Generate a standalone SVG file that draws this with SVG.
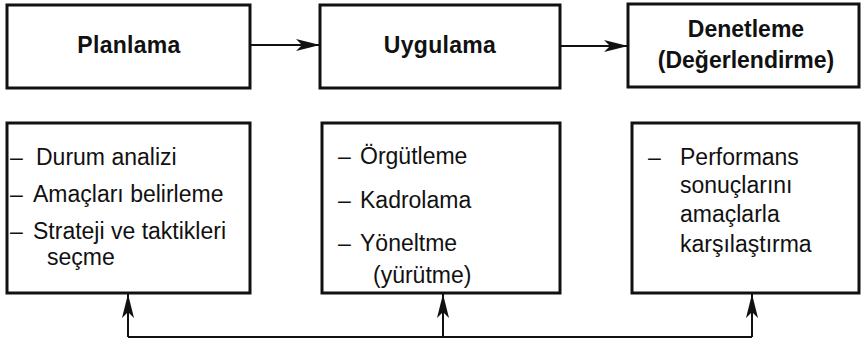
<svg xmlns="http://www.w3.org/2000/svg" width="865" height="348" viewBox="0 0 865 348">
<style>
.box{fill:#fff;stroke:#111;stroke-width:3}
.hd{font-family:"Liberation Sans",Arial,sans-serif;font-weight:bold;font-size:23px;fill:#111;text-anchor:middle}
.tx{font-family:"Liberation Sans",Arial,sans-serif;font-size:23px;fill:#111}
.ln{fill:none;stroke:#111;stroke-width:2}
</style>
<defs>
<marker id="ah" viewBox="0 0 24 12" refX="24" refY="6" markerWidth="24" markerHeight="12" markerUnits="userSpaceOnUse" orient="auto">
<path d="M0,0 L24,6 L0,12 L6,6 Z" fill="#111"/>
</marker>
</defs>
<g id="planlama"><rect class="box" x="7" y="5" width="243" height="83"/><text class="hd" x="129" y="53" letter-spacing="0.3">Planlama</text></g>
<g id="uygulama"><rect class="box" x="320" y="5" width="240" height="83"/><text class="hd" x="440" y="53" letter-spacing="0.3">Uygulama</text></g>
<g id="denetleme"><rect class="box" x="628" y="4" width="231" height="83"/><text class="hd" x="746" y="37">Denetleme</text><text class="hd" x="746" y="68">(Değerlendirme)</text></g>
<g id="planlama-detay"><rect class="box" x="7" y="123" width="243" height="170"/>
<text class="tx" x="10" y="165">–<tspan x="36">Durum analizi</tspan></text>
<text class="tx" x="10" y="202">–<tspan x="33">Amaçları belirleme</tspan></text>
<text class="tx" x="10" y="239">–<tspan x="33">Strateji ve taktikleri</tspan></text>
<text class="tx" x="47" y="265">seçme</text>
</g>
<g id="uygulama-detay"><rect class="box" x="322" y="123" width="238" height="170"/>
<text class="tx" x="338" y="164">–<tspan x="360">Örgütleme</tspan></text>
<text class="tx" x="338" y="208">–<tspan x="360">Kadrolama</tspan></text>
<text class="tx" x="338" y="251">–<tspan x="360">Yöneltme</tspan></text>
<text class="tx" x="373" y="283">(yürütme)</text>
</g>
<g id="denetleme-detay"><rect class="box" x="632" y="123" width="227" height="170"/>
<text class="tx" x="648" y="165">–<tspan x="680">Performans</tspan></text>
<text class="tx" x="680" y="193">sonuçlarını</text>
<text class="tx" x="680" y="222">amaçlarla</text>
<text class="tx" x="680" y="252">karşılaştırma</text>
</g>
<g id="connectors">
<path class="ln" d="M250,45 H320" marker-end="url(#ah)"/>
<path class="ln" d="M560,46 H628" marker-end="url(#ah)"/>
<path class="ln" d="M128,337 H752"/>
<path class="ln" d="M128,337 V294" marker-end="url(#ah)"/>
<path class="ln" d="M443,337 V294" marker-end="url(#ah)"/>
<path class="ln" d="M752,337 V294" marker-end="url(#ah)"/>
</g>
</svg>
